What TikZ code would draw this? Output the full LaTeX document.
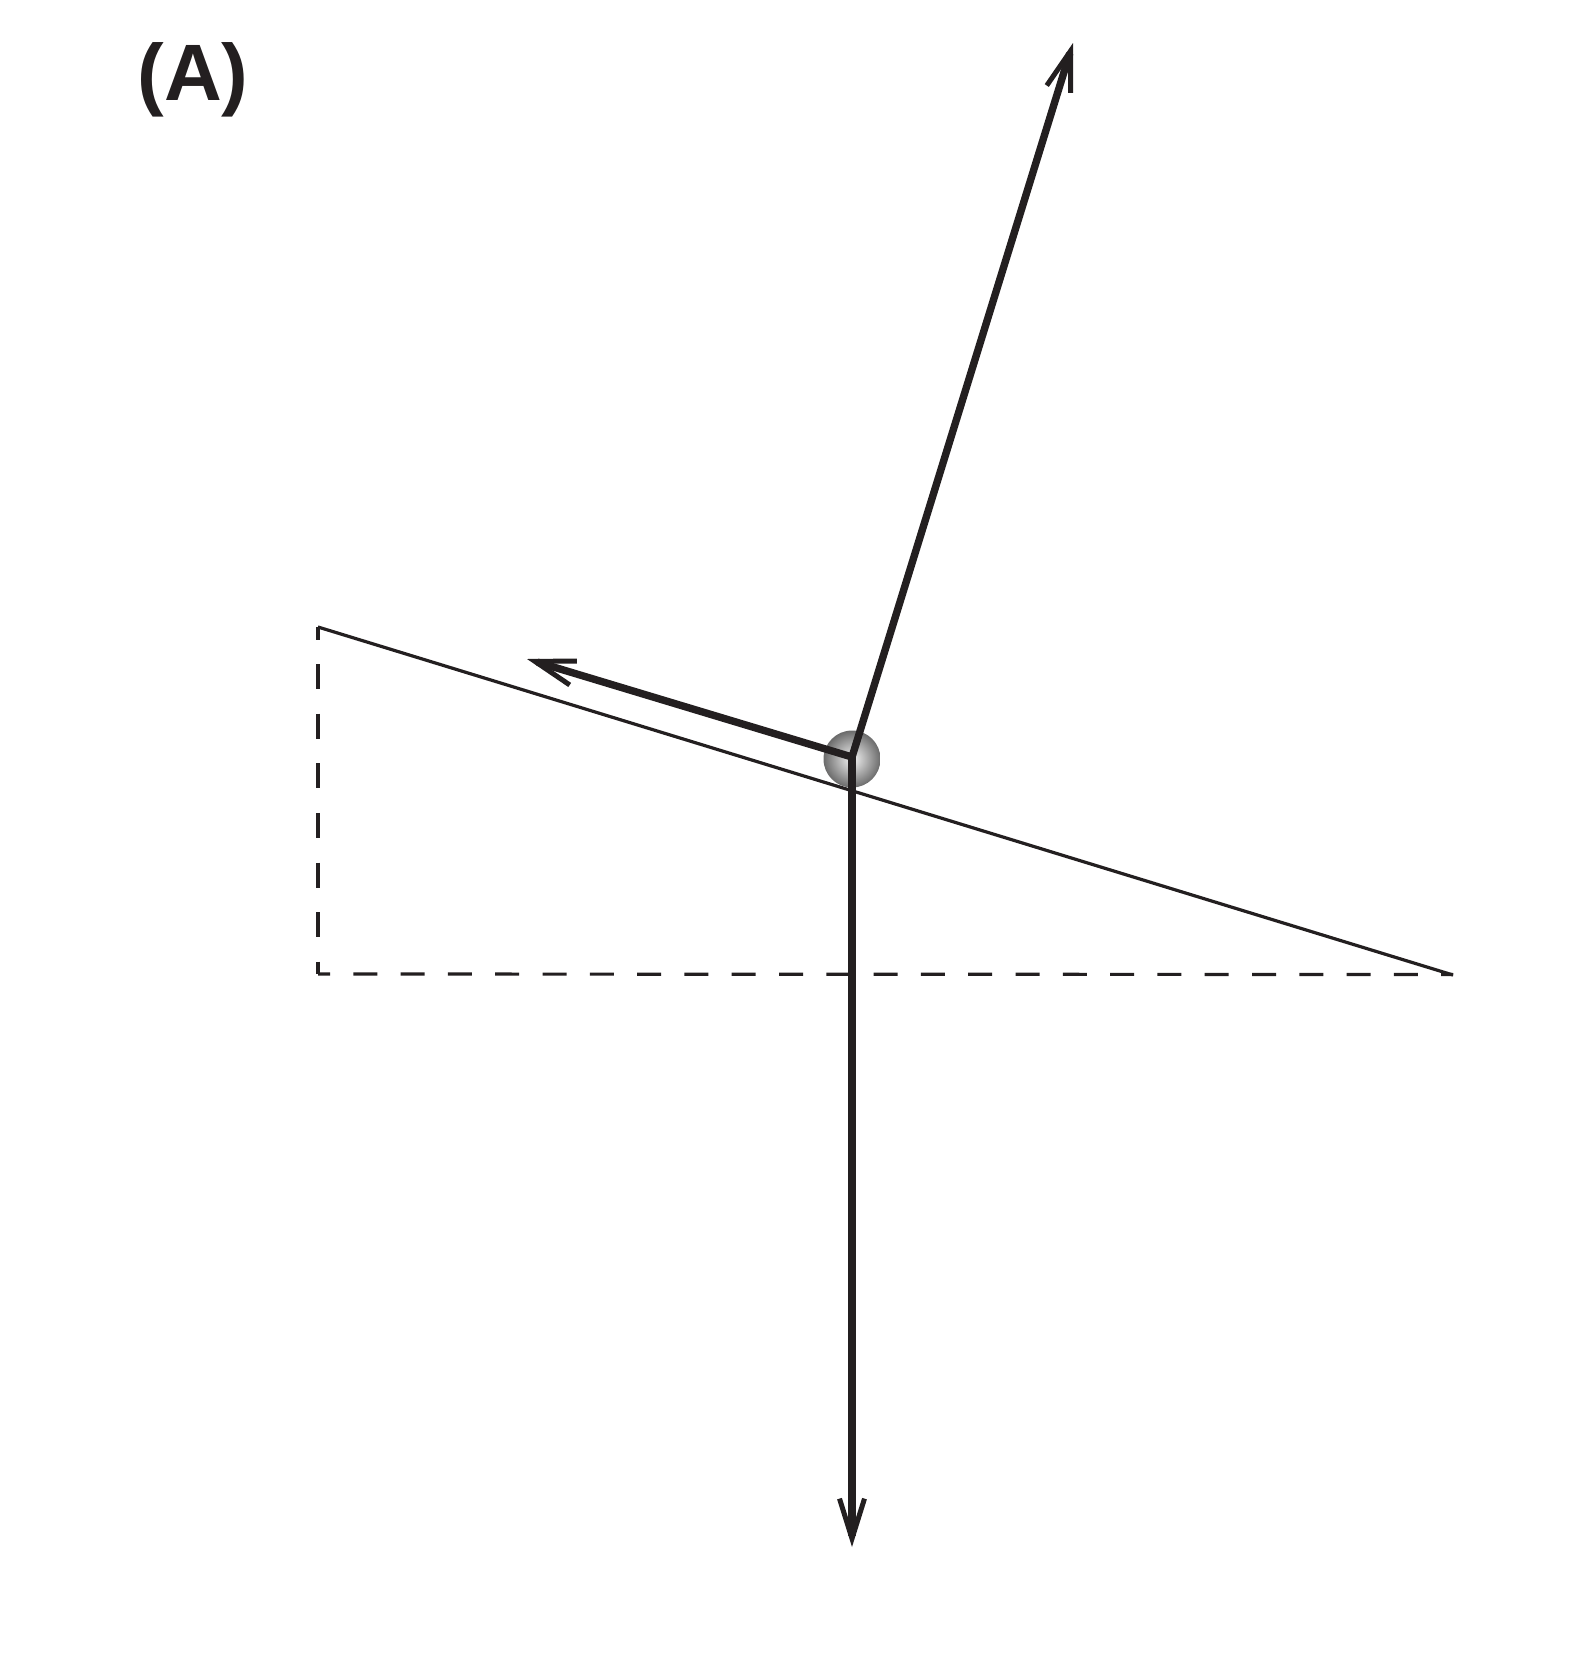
\documentclass[tikz,border=0pt]{standalone}
\usepackage{fontspec}
\setmainfont{Liberation Sans}
\usetikzlibrary{arrows.meta}
\definecolor{ink}{RGB}{35,31,32}
\begin{document}
\begin{tikzpicture}[x=0.5pt,y=-0.5pt,
  thickline/.style={draw=ink,line width=3.7pt,line join=miter},
  thinline/.style={draw=ink,line width=1.6pt},
  barb/.style={-{Straight Barb[sharp,length=20pt,width=12.5pt,line width=2.5pt]}},
  dashv/.style={draw=ink,line width=1.6pt,dash pattern=on 12.5pt off 12.3pt,dash phase=6.25pt},
  dashh/.style={draw=ink,line width=1.6pt,dash pattern=on 12pt off 11.65pt,dash phase=6pt}]
\useasboundingbox (0,0) rectangle (1576,1672);
\node[anchor=base west,inner sep=0,text=ink,font=\bfseries\fontsize{40}{40}\selectfont] (lbl) at (137,100) {(A)};
\coordinate (top) at (318,627);
\coordinate (corner) at (318,974);
\coordinate (right) at (1453,974.5);
\coordinate (c) at (852,757);
\coordinate (uptip) at (1073,43);
\coordinate (lefttip) at (527,659);
\coordinate (downtip) at (852,1547);
\shade[inner color=white!92!gray,outer color=black!58] (852,759) circle[radius=28.5];
\path[dashv] (top) -- (corner);
\path[dashh] (corner) -- (right);
\path[thinline] (top) -- (1453,975);
\path[thickline,{Straight Barb[sharp,length=20pt,width=12.5pt,line width=2.5pt]}-{Straight Barb[sharp,length=20pt,width=12.5pt,line width=2.5pt]}] (lefttip) -- (c) -- (uptip);
\path[thickline,barb] (c) -- (downtip);
\end{tikzpicture}
\end{document}
